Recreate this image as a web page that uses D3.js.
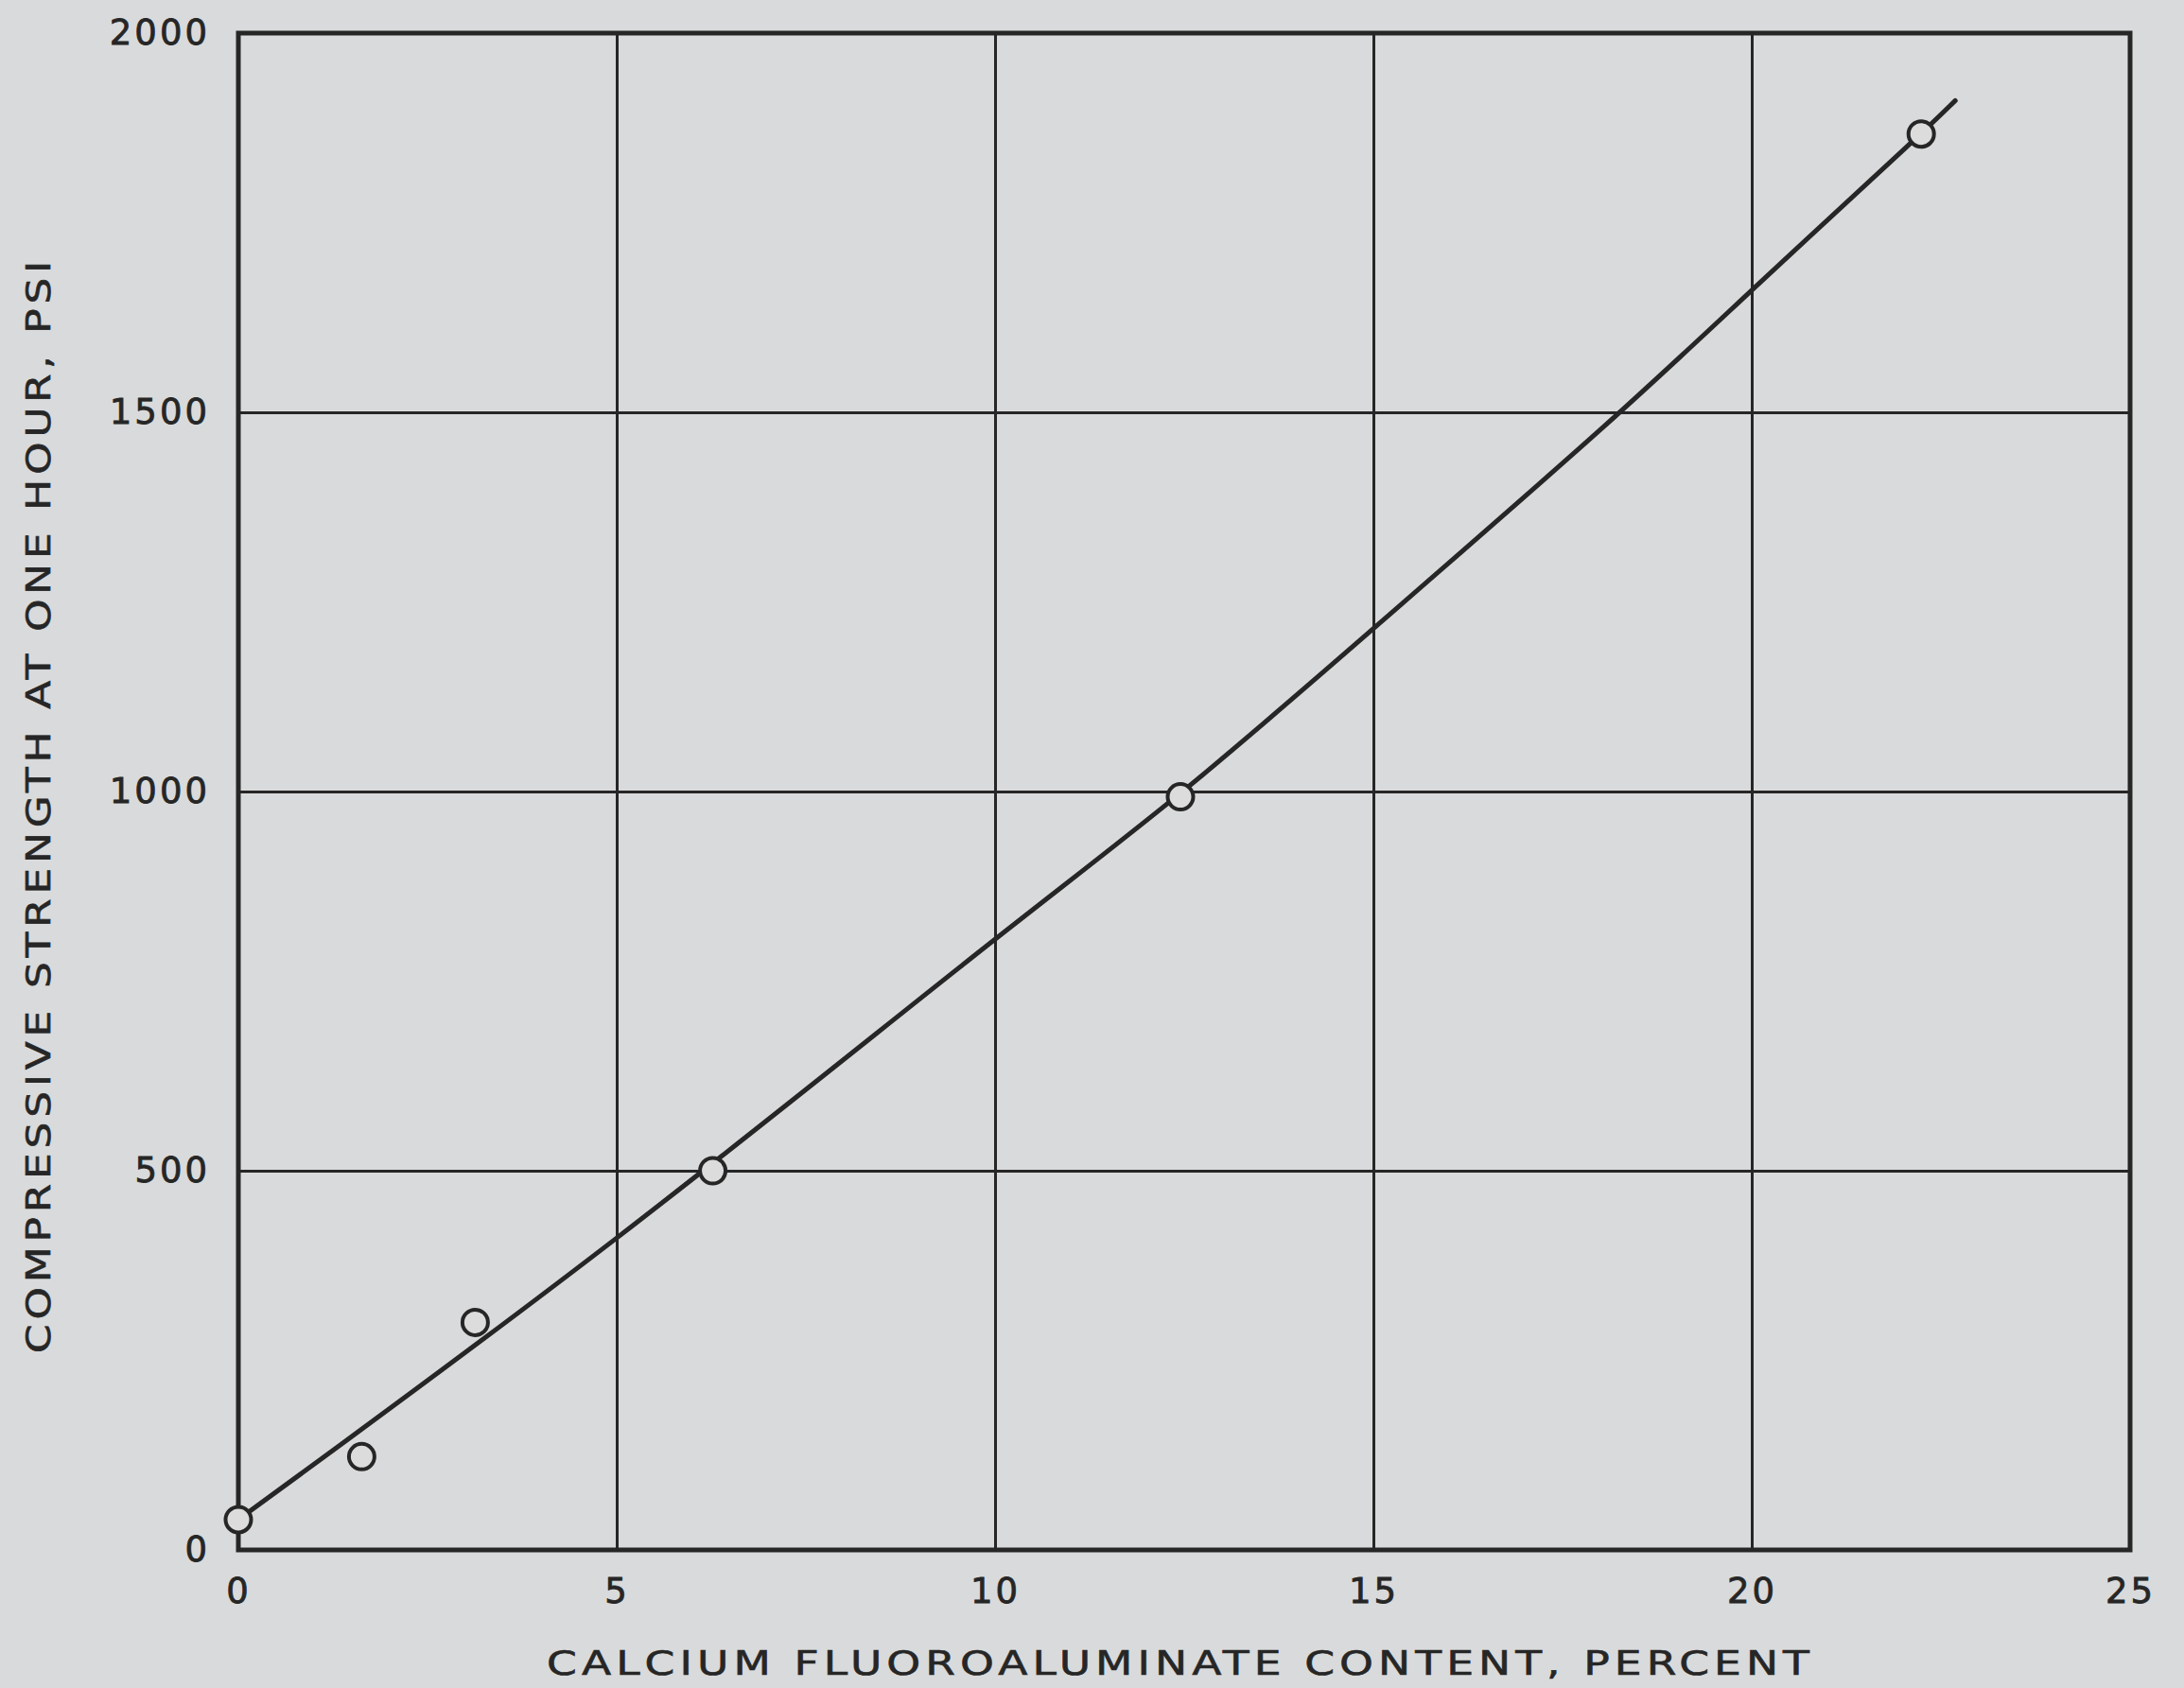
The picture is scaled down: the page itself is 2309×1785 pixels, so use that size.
<!DOCTYPE html>
<html>
<head>
<meta charset="utf-8">
<script src="https://cdn.jsdelivr.net/npm/d3@7"></script>
<style>
  html, body { margin: 0; padding: 0; background: #d9dadb; }
  svg { display: block; }
</style>
</head>
<body>
<svg id="chart" width="2309" height="1785"></svg>
<script>
// ---- data ----
const xTicks = [0, 5, 10, 15, 20, 25];
const yTicks = [0, 500, 1000, 1500, 2000];
const xTitle = "CALCIUM FLUOROALUMINATE CONTENT, PERCENT";
const yTitle = "COMPRESSIVE STRENGTH AT ONE HOUR, PSI";
// measured points (percent, psi)
const pointX = [0, 1.63, 3.13, 6.27, 12.45, 22.24];
const pointY = [40, 123, 300, 500, 993, 1867];
// fitted curve as drawn
const curveX = [0, 5, 10, 12.45, 15, 18.29, 20, 22.24, 22.69];
const curveY = [40, 405, 808, 993, 1215, 1500, 1662, 1867, 1911];

// ---- layout ----
const mLeft = 252, mRight = 2252, mTop = 35, mBottom = 1639;
const ink = "#262626";
const svg = d3.select("#chart");

const x = d3.scaleLinear().domain([0, 25]).range([mLeft, mRight]);
const y = d3.scaleLinear().domain([0, 2000]).range([mBottom, mTop]);

// gridlines
svg.append("g")
  .attr("transform", `translate(0,${mBottom})`)
  .call(d3.axisBottom(x).tickValues(xTicks).tickSize(-(mBottom - mTop)).tickFormat(""))
  .call(g => g.select(".domain").remove())
  .call(g => g.selectAll("line").attr("stroke", ink).attr("stroke-width", 3));
svg.append("g")
  .attr("transform", `translate(${mLeft},0)`)
  .call(d3.axisLeft(y).tickValues(yTicks).tickSize(-(mRight - mLeft)).tickFormat(""))
  .call(g => g.select(".domain").remove())
  .call(g => g.selectAll("line").attr("stroke", ink).attr("stroke-width", 3));

// frame
svg.append("rect")
  .attr("x", x(0)).attr("y", y(2000))
  .attr("width", x(25) - x(0)).attr("height", y(0) - y(2000))
  .attr("fill", "none").attr("stroke", ink).attr("stroke-width", 5);

// tick labels
const fontFam = "'DejaVu Sans', 'Liberation Sans', sans-serif";
svg.append("g")
  .attr("transform", `translate(0,${mBottom})`)
  .call(d3.axisBottom(x).tickValues(xTicks).tickSize(0).tickPadding(30).tickFormat(d3.format("d")))
  .call(g => g.select(".domain").remove())
  .call(g => g.selectAll("text").attr("font-family", fontFam).attr("font-size", 37)
              .attr("letter-spacing", 3).attr("fill", ink)
              .attr("stroke", ink).attr("stroke-width", 0.8));
svg.append("g")
  .attr("transform", `translate(${mLeft},0)`)
  .call(d3.axisLeft(y).tickValues(yTicks).tickSize(0).tickPadding(30).tickFormat(d3.format("d")))
  .call(g => g.select(".domain").remove())
  .call(g => g.selectAll("text").attr("font-family", fontFam).attr("font-size", 37)
              .attr("letter-spacing", 3).attr("fill", ink)
              .attr("stroke", ink).attr("stroke-width", 0.8));

// curve
const curveData = curveX.map((v, i) => [v, curveY[i]]);
svg.append("path")
  .datum(curveData)
  .attr("fill", "none").attr("stroke", ink).attr("stroke-width", 5)
  .attr("stroke-linecap", "round")
  .attr("d", d3.line().x(d => x(d[0])).y(d => y(d[1])).curve(d3.curveBasis));

// points
const pts = pointX.map((v, i) => [v, pointY[i]]);
svg.append("g").selectAll("circle").data(pts).join("circle")
  .attr("cx", d => x(d[0])).attr("cy", d => y(d[1])).attr("r", 13.5)
  .attr("fill", "#dcdcdc").attr("stroke", ink).attr("stroke-width", 4);

// axis titles
svg.append("text")
  .attr("x", 1248).attr("y", 1771)
  .attr("text-anchor", "middle")
  .attr("font-family", fontFam).attr("font-size", 36)
  .attr("letter-spacing", 4)
  .attr("fill", ink).attr("stroke", ink).attr("stroke-width", 0.6)
  .attr("textLength", 1340).attr("lengthAdjust", "spacingAndGlyphs")
  .text(xTitle);
svg.append("text")
  .attr("transform", "translate(53,851) rotate(-90)")
  .attr("text-anchor", "middle")
  .attr("font-family", fontFam).attr("font-size", 36)
  .attr("letter-spacing", 4)
  .attr("fill", ink).attr("stroke", ink).attr("stroke-width", 0.6)
  .attr("textLength", 1160).attr("lengthAdjust", "spacingAndGlyphs")
  .text(yTitle);
</script>
</body>
</html>
